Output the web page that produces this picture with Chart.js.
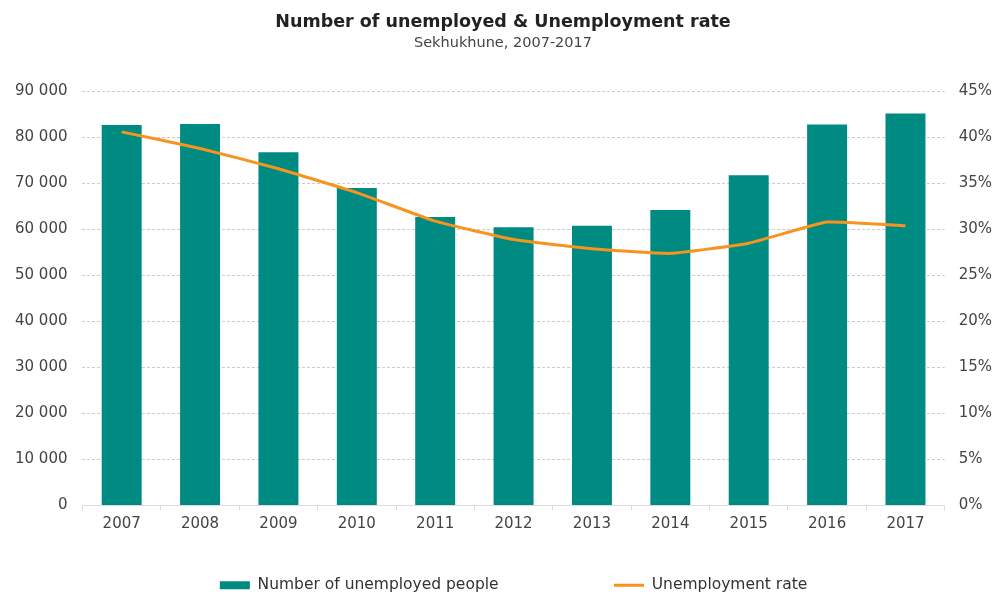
<!DOCTYPE html>
<html>
<head>
<meta charset="utf-8">
<script src="https://cdn.jsdelivr.net/npm/chart.js@4/dist/chart.umd.min.js"></script>
<style>
  html, body { margin: 0; padding: 0; background: #fff; }
  #wrap { width: 998px; height: 592px; }
</style>
</head>
<body>
<div id="wrap"><canvas id="myChart" width="998" height="592"></canvas></div>
<script>
var years = ['2007', '2008', '2009', '2010', '2011', '2012', '2013', '2014', '2015', '2016', '2017'];
var unemployed = [82700, 82900, 76800, 69000, 62700, 60500, 60800, 64200, 71800, 82800, 85200];
var rate = [40.6, 38.8, 36.6, 34.0, 30.9, 28.9, 27.9, 27.4, 28.5, 30.8, 30.4];

var teal = '#008b82';
var orange = '#f7931e';
var tickFont = { family: 'DejaVu Sans', size: 15 };

function spaced(v) {
    return String(v).replace(/\B(?=(\d{3})+(?!\d))/g, ' ');
}

var ctx = document.getElementById('myChart').getContext('2d');
var myChart = new Chart(ctx, {
    type: 'bar',
    data: {
        labels: years,
        datasets: [{
            type: 'line',
            label: 'Unemployment rate',
            data: rate,
            yAxisID: 'y1',
            borderColor: orange,
            backgroundColor: orange,
            borderWidth: 3,
            pointRadius: 0,
            tension: 0.12,
            order: 0
        }, {
            label: 'Number of unemployed people',
            data: unemployed,
            yAxisID: 'y',
            backgroundColor: teal,
            borderWidth: 0,
            barPercentage: 0.51,
            categoryPercentage: 1,
            order: 1
        }]
    },
    options: {
        responsive: false,
        animation: false,
        layout: { padding: { left: 0, right: -8, top: 0, bottom: -11 } },
        plugins: {
            title: {
                display: true,
                text: 'Number of unemployed & Unemployment rate',
                color: '#222',
                font: { family: 'DejaVu Sans', size: 17.5, weight: 'bold' },
                padding: { top: 12, bottom: 2 }
            },
            subtitle: {
                display: true,
                text: 'Sekhukhune, 2007-2017',
                color: '#444',
                font: { family: 'DejaVu Sans', size: 14.5 },
                padding: { bottom: 39 }
            },
            legend: {
                position: 'bottom',
                fullSize: false,
                reverse: true,
                labels: {
                    usePointStyle: true,
                    pointStyleWidth: 30,
                    boxHeight: 8,
                    padding: 2,
                    color: '#333',
                    font: { family: 'DejaVu Sans', size: 15.5 },
                    generateLabels: function (chart) {
                        var items = Chart.defaults.plugins.legend.labels.generateLabels(chart);
                        items.forEach(function (it) {
                            var isLine = chart.data.datasets[it.datasetIndex].type === 'line';
                            it.pointStyle = isLine ? 'line' : 'rect';
                            if (!isLine) it.text = it.text + '\u2003\u2003\u2003\u2003\u2003\u2003\u2003 ';
                        });
                        return items;
                    }
                }
            },
            tooltip: { enabled: false }
        },
        scales: {
            x: {
                grid: {
                    offset: true,
                    drawOnChartArea: false,
                    drawTicks: true,
                    tickLength: 5,
                    color: '#dddddd'
                },
                border: { color: '#dddddd' },
                ticks: { color: '#444', font: tickFont, padding: 5 },
                afterFit: function (scale) { scale.height += 37; }
            },
            y: {
                position: 'left',
                min: 0,
                max: 90000,
                ticks: {
                    stepSize: 10000,
                    color: '#444',
                    font: tickFont,
                    padding: 15,
                    callback: function (v) { return spaced(v); }
                },
                grid: {
                    color: '#cccccc',
                    drawTicks: false
                },
                border: { display: false, dash: [3, 2] }
            },
            y1: {
                position: 'right',
                min: 0,
                max: 45,
                ticks: {
                    stepSize: 5,
                    color: '#444',
                    font: tickFont,
                    padding: 14,
                    callback: function (v) { return v + '%'; }
                },
                grid: { drawOnChartArea: false, drawTicks: false },
                border: { display: false }
            }
        }
    }
});
</script>
</body>
</html>
